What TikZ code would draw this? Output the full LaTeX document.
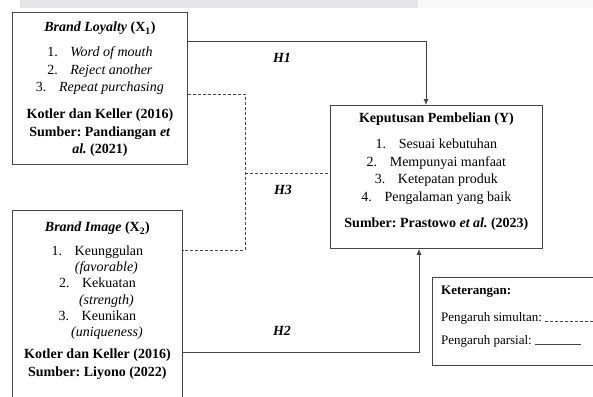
\documentclass[tikz,border=0pt]{standalone}
\usepackage{fontspec}
\setmainfont{Liberation Serif}
\usetikzlibrary{arrows.meta,positioning}
\definecolor{garisabu}{HTML}{454545}
\definecolor{pitaabu}{HTML}{E5E5E7}
\definecolor{pitamuda}{HTML}{F8F8F8}
\frenchspacing

\begin{document}
\begin{tikzpicture}[x=1pt,y=-1pt,>={Latex[length=6pt,width=5pt]}]
\tikzstyle{kotak}=[draw=garisabu,line width=0.8pt,anchor=north west,inner sep=0pt]
\tikzstyle{isi}=[anchor=north,align=center,inner sep=0pt,font=\fontsize{14}{17.5}\selectfont]
\tikzstyle{hipo}=[font=\fontsize{14}{17}\selectfont\bfseries\itshape]
\tikzstyle{garis}=[draw=garisabu,line width=0.8pt]
\tikzstyle{putus}=[garis,dash pattern=on 3pt off 2pt]
\tikzstyle{ket}=[anchor=west,inner sep=0pt,font=\fontsize{13}{15}\selectfont]
\useasboundingbox (0,0) rectangle (593,396);
\clip (0,0) rectangle (593,396);
\fill[pitaabu] (20,0) rectangle (418,8.5);
\fill[pitamuda] (418,0) rectangle (593,8.5);
% kotak variabel
\node[kotak,minimum width=175pt,minimum height=152pt] (bl) at (12,12) {};
\node[kotak,minimum width=170pt,minimum height=200pt] (bi) at (12,210) {};
\node[kotak,minimum width=212pt,minimum height=143pt] (kp) at (330,105) {};
\node[kotak,minimum width=175pt,minimum height=88pt] (leg) at (432,277) {};
% isi kotak
\node[isi] (bltxt) at ([yshift=-10pt]bl.north) {\textbf{\textit{Brand Loyalty} (X\textsubscript{1})}\\[7.5pt]
1.\hspace{0.9em}\textit{Word of mouth}\\
2.\hspace{0.9em}\textit{Reject another}\\
3.\hspace{0.9em}\textit{Repeat purchasing}\\[9.5pt]
\textbf{Kotler dan Keller (2016)}\\
\textbf{Sumber: Pandiangan \textit{et}}\\
\textbf{\textit{al.} (2021)}};
\node[isi] (bitxt) at ([yshift=-12pt]bi.north) {\textbf{\textit{Brand Image} (X\textsubscript{2})}\\[6pt]
1.\hspace{0.9em}Keunggulan\\[-1.3pt]
\hspace*{18pt}\textit{(favorable)}\\[-1.3pt]
2.\hspace{0.9em}Kekuatan\\[-1.3pt]
\hspace*{18pt}\textit{(strength)}\\[-1.3pt]
3.\hspace{0.9em}Keunikan\\[-1.3pt]
\hspace*{19pt}\textit{(uniqueness)}\\[5pt]
\textbf{Kotler dan Keller (2016)}\\
\textbf{Sumber: Liyono (2022)}};
\node[isi] (kptxt) at ([yshift=-8pt]kp.north) {\textbf{Keputusan Pembelian (Y)}\\[8.5pt]
1.\hspace{0.9em}Sesuai kebutuhan\\
2.\hspace{0.9em}Mempunyai manfaat\\
3.\hspace{0.9em}Ketepatan produk\\
4.\hspace{0.9em}Pengalaman yang baik\\[8.5pt]
\textbf{Sumber: Prastowo \textit{et al.} (2023)}};
% garis hipotesis
\coordinate (h1) at (426,41);
\coordinate (h2) at (419,352);
\coordinate (d1) at (245,94);
\coordinate (d2) at (245,250);
\coordinate (dj) at (245,173);
\draw[garis,->] (bl.east |- h1) -| (kp.north -| h1);
\draw[garis,->] (bi.east |- h2) -| (kp.south -| h2);
\draw[putus] (bl.east |- d1) -| (d2) -- (bi.east |- d2);
\draw[putus] (dj) -- (kp.west |- dj);
\node[hipo] (lh1) at (282,58) {H1};
\node[hipo] (lh3) at (283,190) {H3};
\node[hipo] (lh2) at (282,331) {H2};
% keterangan
\node[ket,font=\fontsize{13}{15}\selectfont\bfseries] (judul) at (441,292) {Keterangan:};
\node[ket] (sim) at (441,318) {Pengaruh simultan:};
\node[ket] (par) at (441,341) {Pengaruh parsial:};
\draw[putus] ([xshift=3pt]sim.base east) -- ++(55,0);
\draw[garis] ([xshift=3pt]par.base east) -- ++(46,0);
\end{tikzpicture}
\end{document}
